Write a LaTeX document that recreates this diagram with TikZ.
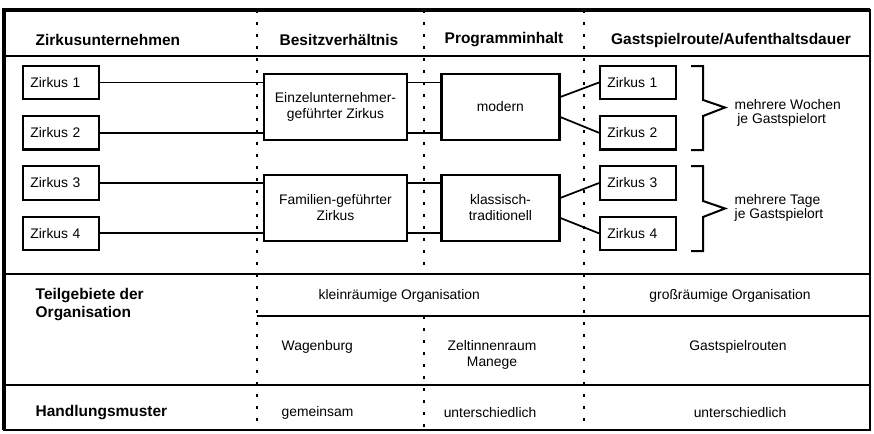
\documentclass[tikz,border=0pt]{standalone}
\usepackage{fontspec}
\setmainfont{Liberation Sans}
\usetikzlibrary{positioning}

\begin{document}
\begin{tikzpicture}[
    x=0.75pt, y=-0.75pt,
    node distance=37.7pt,
    box/.style={rectangle, draw, line width=1.6pt, text width=46pt, align=left, inner xsep=5.5pt, minimum height=25pt, font=\fontsize{10.4}{12}\selectfont},
    bigbox/.style={rectangle, draw, line width=1.6pt, minimum width=107pt, minimum height=49.5pt, align=center, font=\fontsize{10.4}{12}\selectfont},
    progbox/.style={rectangle, draw, line width=1.6pt, minimum width=88.5pt, minimum height=49.5pt, align=center, font=\fontsize{10.4}{12}\selectfont},
    header/.style={font=\fontsize{11.6}{13.5}\selectfont\bfseries, align=left},
    cell/.style={font=\fontsize{10.4}{12}\selectfont, align=center},
    note/.style={font=\fontsize{10.4}{11}\selectfont, align=left, anchor=west},
    link/.style={line width=1.3pt},
    rule/.style={line width=1.3pt},
    divider/.style={line width=1.8pt, dash pattern=on 2pt off 7pt}
]
    \useasboundingbox (0,0) rectangle (874,433);

    % Frame and rows
    \draw[rule] (4,10) rectangle (870,430);
    \draw[line width=2.6pt] (4,430) -- (4,10) -- (870,10);
    \draw[rule] (4,56) -- (870,56);
    \draw[rule] (4,274) -- (870,274);
    \draw[rule] (257,316) -- (870,316);
    \draw[rule] (4,385) -- (870,385);

    % Column dividers
    \draw[divider] (257,10) -- (257,430);
    \draw[divider] (424,10) -- (424,274);
    \draw[divider] (424,316) -- (424,430);
    \draw[divider] (584,10) -- (584,430);

    % Headers
    \node[header, anchor=west] (h1) at (31,40) {Zirkusunternehmen};
    \node[header] (h2) at (339,40) {Besitzverhältnis};
    \node[header] (h3) at (504,40) {Programminhalt};
    \node[header] (h4) at (731,40) {Gastspielroute/Aufenthaltsdauer};

    % Circus column
    \node[box] (z1) at (61,82.5) {Zirkus 1};
    \node[box, below of=z1] (z2) {Zirkus 2};
    \node[box, below of=z2] (z3) {Zirkus 3};
    \node[box, below of=z3] (z4) {Zirkus 4};

    % Ownership column
    \node[bigbox] (b1) at (335.5,107) {Einzelunternehmer-\\geführter Zirkus};
    \node[bigbox, below of=b1, yshift=-38pt] (b2) {Familien-geführter\\Zirkus};

    % Programme column
    \node[progbox, right of=b1, xshift=86pt] (p1) {modern};
    \node[progbox, below of=p1, yshift=-38pt] (p2) {klassisch-\\traditionell};

    % Tour column
    \node[box] (r1) at (638,82.5) {Zirkus 1};
    \node[box, below of=r1] (r2) {Zirkus 2};
    \node[box, below of=r2] (r3) {Zirkus 3};
    \node[box, below of=r3] (r4) {Zirkus 4};

    % Connections
    \draw[link] (z1.east) -- (z1.east -| b1.west);
    \draw[link] (z2.east) -- (z2.east -| b1.west);
    \draw[link] (z3.east) -- (z3.east -| b2.west);
    \draw[link] (z4.east) -- (z4.east -| b2.west);
    \draw[link] (b1.east |- z1.east) -- (p1.west |- z1.east);
    \draw[link] (b1.east |- z2.east) -- (p1.west |- z2.east);
    \draw[link] (b2.east |- z3.east) -- (p2.west |- z3.east);
    \draw[link] (b2.east |- z4.east) -- (p2.west |- z4.east);
    \draw[link] ([yshift=-18pt]p1.north east) -- (r1.west);
    \draw[link] ([yshift=18pt]p1.south east) -- (r2.west);
    \draw[link] ([yshift=-18pt]p2.north east) -- (r3.west);
    \draw[link] ([yshift=18pt]p2.south east) -- (r4.west);

    % Braces
    \draw[line width=1.5pt] (691,66) -- (703,66) -- (703,100) -- (725,107.5) -- (703,116) -- (703,150) -- (691,150);
    \draw[line width=1.5pt] (691,166) -- (703,166) -- (703,201) -- (725,208.5) -- (703,217) -- (703,251) -- (691,251);
    \node[note] (d1) at (730,113) {mehrere Wochen\\\hspace{2pt}je Gastspielort};
    \node[note] (d2) at (730,208) {mehrere Tage\\je Gastspielort};

    % Organisation rows
    \node[header, anchor=west] (t1) at (31,305) {Teilgebiete der\\Organisation};
    \node[cell, anchor=west] (k1) at (314,296) {kleinräumige Organisation};
    \node[cell] (k2) at (730,296) {großräumige Organisation};
    \node[cell, anchor=west] (k3) at (277,347) {Wagenburg};
    \node[cell] (k4) at (492,355) {Zeltinnenraum\\Manege};
    \node[cell] (k5) at (738,347) {Gastspielrouten};

    % Action patterns
    \node[header, anchor=west] (t2) at (31,413) {Handlungsmuster};
    \node[cell, anchor=west] (a1) at (277,413) {gemeinsam};
    \node[cell] (a2) at (490,413) {unterschiedlich};
    \node[cell] (a3) at (740,413) {unterschiedlich};
\end{tikzpicture}
\end{document}
